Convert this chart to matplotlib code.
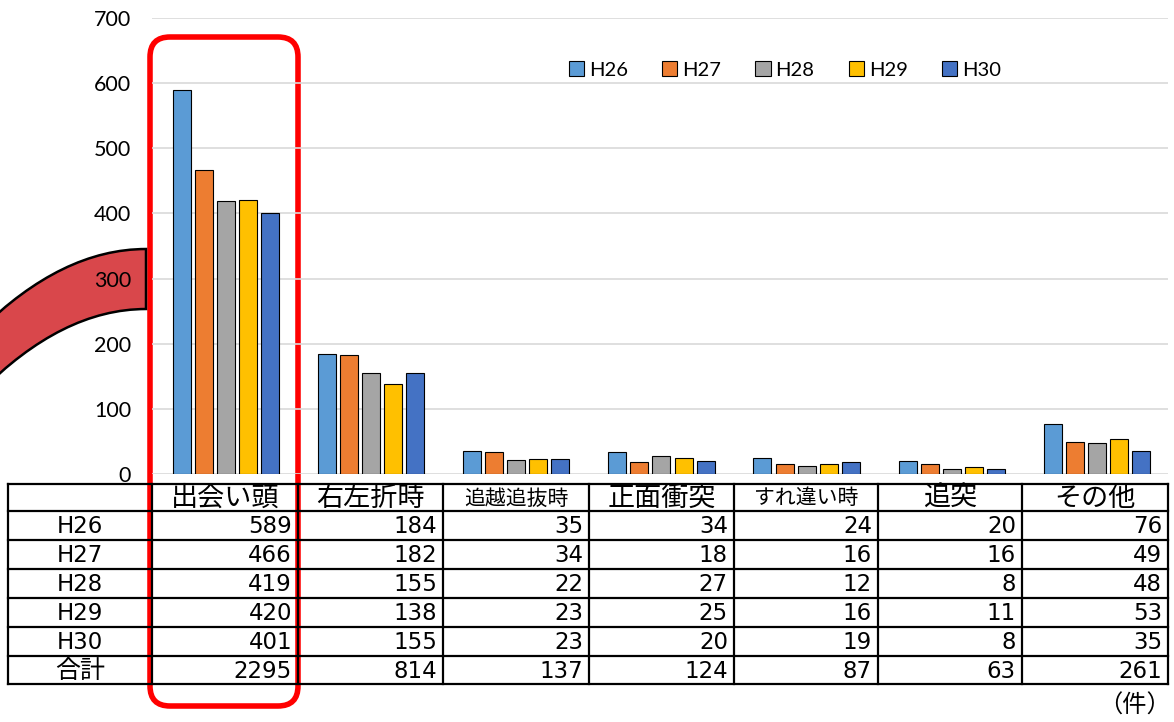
import matplotlib
matplotlib.use("Agg")
import matplotlib.pyplot as plt
from matplotlib.patches import FancyBboxPatch, PathPatch
from matplotlib.path import Path
import numpy as np

# ── data ──────────────────────────────────────────────────────────────────────
categories = ["出会い頭", "右左折時", "追越追抜時", "正面衝突", "すれ違い時", "追突", "その他"]
years = ["H26", "H27", "H28", "H29", "H30"]
h26 = [589, 184, 35, 34, 24, 20, 76]
h27 = [466, 182, 34, 18, 16, 16, 49]
h28 = [419, 155, 22, 27, 12, 8, 48]
h29 = [420, 138, 23, 25, 16, 11, 53]
h30 = [401, 155, 23, 20, 19, 8, 35]
totals = [2295, 814, 137, 124, 87, 63, 261]
series = [h26, h27, h28, h29, h30]
colors = ["#5B9BD5", "#ED7D31", "#A5A5A5", "#FFC000", "#4472C4"]

W, H = 1174, 722
JP = ["Noto Sans CJK JP", "DejaVu Sans"]
NUM = ["DejaVu Sans", "Noto Sans CJK JP"]

fig = plt.figure(figsize=(W / 100, H / 100), dpi=100)

# ── overlay (table, frame, arrow) in pixel coordinates ───────────────────────
ov = fig.add_axes([0, 0, 1, 1], zorder=0)
ov.set_xlim(0, W)
ov.set_ylim(H, 0)
ov.axis("off")

# ── bar chart ────────────────────────────────────────────────────────────────
x0, x1, ytop, ybot = 152, 1168, 18, 474
ax = fig.add_axes([x0 / W, (H - ybot) / H, (x1 - x0) / W, (ybot - ytop) / H], zorder=1)
ax.patch.set_alpha(0)
ax.set_xlim(0, len(categories))
ax.set_ylim(0, 700)
ax.set_yticks(range(0, 701, 100))
ax.yaxis.grid(True, color="#D9D9D9", lw=1.2)
ax.set_axisbelow(True)
for s in ax.spines.values():
    s.set_visible(False)
ax.set_xticks([])
ax.tick_params(axis="y", length=0, pad=15, labelsize=15.5)
for t in ax.get_yticklabels():
    t.set_fontfamily("Lato")

xc = np.arange(len(categories)) + 0.5
step, bw = 0.152, 0.124
for i, (yr, vals, c) in enumerate(zip(years, series, colors)):
    ax.bar(xc + (i - 2) * step + 0.01, vals, width=bw, color=c, edgecolor="black",
           linewidth=0.8, label=yr)

leg = ax.legend(loc="center", bbox_to_anchor=(785 / W, (H - 70) / H),
                bbox_transform=fig.transFigure, ncol=5, frameon=False,
                handlelength=0.75, handleheight=0.75, handletextpad=0.25,
                columnspacing=1.7, prop={"family": "Lato", "size": 14.5})

# ── table ────────────────────────────────────────────────────────────────────
col_x = [8, 152, 298, 443, 589, 734, 878, 1022, 1168]
row_y = [484, 511, 540, 569, 598, 627, 656, 684]
for yy in row_y:
    ov.plot([col_x[0], col_x[-1]], [yy, yy], color="black", lw=1.6)
for xx in col_x:
    ov.plot([xx, xx], [row_y[0], row_y[-1]], color="black", lw=1.6)

small = {"追越追抜時", "すれ違い時"}
for j, cat in enumerate(categories):
    cx = (col_x[j + 1] + col_x[j + 2]) / 2
    ov.text(cx, (row_y[0] + row_y[1]) / 2 + 1, cat, ha="center", va="center",
            fontsize=15 if cat in small else 19.5, family=JP)

row_names = years + ["合計"]
row_vals = series + [totals]
for r, (name, vals) in enumerate(zip(row_names, row_vals)):
    cy = (row_y[r + 1] + row_y[r + 2]) / 2 + 1
    ov.text((col_x[0] + col_x[1]) / 2, cy, name, ha="center", va="center",
            fontsize=16.5 if name != "合計" else 18,
            family=NUM if name != "合計" else JP)
    for j, v in enumerate(vals):
        ov.text(col_x[j + 2] - 6, cy, str(v), ha="right", va="center",
                fontsize=16.5, family=NUM)

ov.text(1171, 706, "（件）", ha="right", va="center", fontsize=17.5, family=JP)

# ── highlight frame and arrow ────────────────────────────────────────────────
ov.add_patch(FancyBboxPatch((150 + 20, 37 + 20), 148 - 40, 669 - 40,
                            boxstyle="round,pad=20", facecolor="none",
                            edgecolor="#FF0000", lw=4))

verts = [(-20, 330), (62, 249), (146, 249), (146, 309),
         (62, 309), (-20, 392), (-20, 330)]
codes = [Path.MOVETO, Path.CURVE3, Path.CURVE3, Path.LINETO,
         Path.CURVE3, Path.CURVE3, Path.CLOSEPOLY]
ov.add_patch(PathPatch(Path(verts, codes), facecolor="#D9474B",
                       edgecolor="black", lw=1.8))

fig.savefig("out.png", dpi=100, facecolor="white")
